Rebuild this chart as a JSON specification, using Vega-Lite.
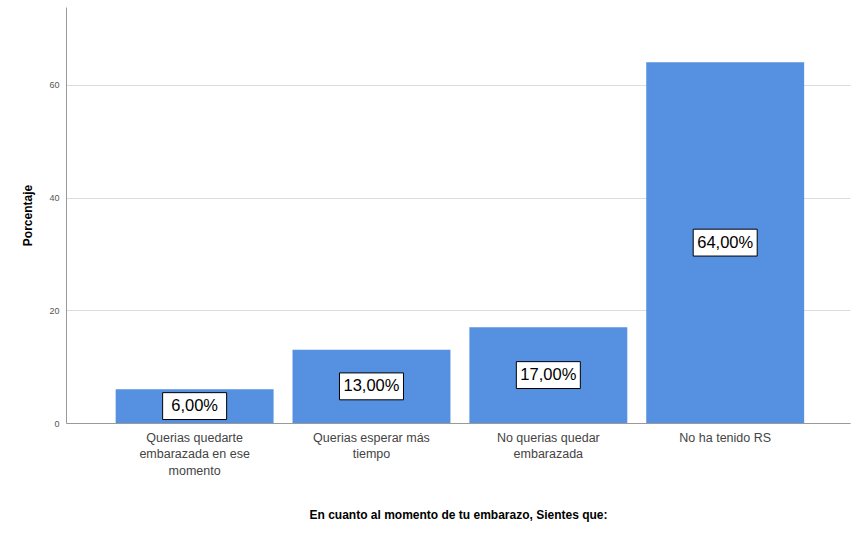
{
  "$schema": "https://vega.github.io/schema/vega-lite/v6.json",
  "width": 784,
  "height": 416,
  "autosize": "none",
  "padding": {"left": 66, "top": 7, "right": 9, "bottom": 117},
  "background": "white",
  "config": {"view": {"stroke": null}, "font": "Liberation Sans"},
  "data": {
    "values": [
      {"category": "Querias quedarte embarazada en ese momento", "value": 6, "label": "6,00%"},
      {"category": "Querias esperar más tiempo", "value": 13, "label": "13,00%"},
      {"category": "No querias quedar embarazada", "value": 17, "label": "17,00%"},
      {"category": "No ha tenido RS", "value": 64, "label": "64,00%"}
    ]
  },
  "encoding": {
    "x": {
      "field": "category",
      "type": "nominal",
      "sort": null,
      "scale": {"paddingInner": 0.107, "paddingOuter": 0.27, "align": 0.52},
      "axis": {
        "title": "En cuanto al momento de tu embarazo, Sientes que:",
        "titleFontSize": 12,
        "titleFontWeight": "bold",
        "titleColor": "#000",
        "titlePadding": 33,
        "labelAngle": 0,
        "labelFontSize": 12.5,
        "labelColor": "#444",
        "labelPadding": 8,
        "labelLineHeight": 16.5,
        "labelLimit": 0,
        "ticks": false,
        "domainColor": "#999",
        "labelExpr": "datum.value == 'Querias quedarte embarazada en ese momento' ? ['Querias quedarte', 'embarazada en ese', 'momento'] : datum.value == 'Querias esperar más tiempo' ? ['Querias esperar más', 'tiempo'] : datum.value == 'No querias quedar embarazada' ? ['No querias quedar', 'embarazada'] : datum.value"
      }
    }
  },
  "layer": [
    {
      "mark": {"type": "bar", "color": "#5591e0"},
      "encoding": {
        "y": {
          "field": "value",
          "type": "quantitative",
          "scale": {"domain": [0, 73.8], "nice": false},
          "axis": {
            "title": "Porcentaje",
            "titleFontSize": 12,
            "titleFontWeight": "bold",
            "titleColor": "#000",
            "titlePadding": 14,
            "values": [0, 20, 40, 60],
            "labelFontSize": 9,
            "labelColor": "#555",
            "labelPadding": 7,
            "ticks": false,
            "grid": true,
            "gridColor": "#dcdcdc",
            "domainColor": "#999"
          }
        }
      }
    },
    {
      "mark": {
        "type": "point",
        "shape": "M-1,-0.42L1,-0.42L1,0.42L-1,0.42Z",
        "size": 4096,
        "filled": true,
        "fill": "white",
        "stroke": "black",
        "strokeWidth": 1,
        "opacity": 1
      },
      "encoding": {
        "y": {"field": "value", "type": "quantitative", "scale": {"domain": [0, 147.6], "nice": false}, "axis": null}
      }
    },
    {
      "mark": {"type": "text", "fontSize": 16.5, "color": "#000"},
      "encoding": {
        "y": {"field": "value", "type": "quantitative", "scale": {"domain": [0, 147.6], "nice": false}, "axis": null},
        "text": {"field": "label"}
      }
    }
  ],
  "resolve": {"scale": {"y": "independent"}}
}
